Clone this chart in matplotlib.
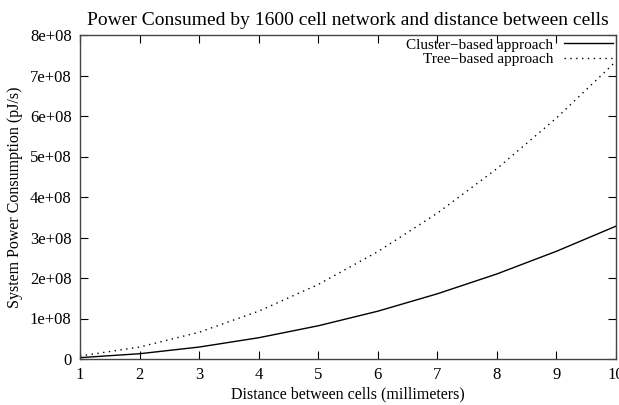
import matplotlib
matplotlib.use("Agg")
import matplotlib.pyplot as plt

distance = [1, 2, 3, 4, 5, 6, 7, 8, 9, 10]
cluster = [3.3e6, 1.3e7, 2.95e7, 5.25e7, 8.2e7, 1.18e8, 1.61e8, 2.1e8, 2.66e8, 3.28e8]
tree = [7.4e6, 2.95e7, 6.6e7, 1.18e8, 1.84e8, 2.65e8, 3.6e8, 4.7e8, 5.95e8, 7.35e8]
yticks = [0, 1e8, 2e8, 3e8, 4e8, 5e8, 6e8, 7e8, 8e8]
ytick_labels = ["0", "1e+08", "2e+08", "3e+08", "4e+08", "5e+08", "6e+08", "7e+08", "8e+08"]
xticks = [1, 2, 3, 4, 5, 6, 7, 8, 9, 10]

plt.rcParams['font.family'] = ['Liberation Serif', 'DejaVu Serif']

W, H = 619, 405
fig = plt.figure(figsize=(W / 100, H / 100), dpi=100)
left, right, top, bottom = 80, 616, 35, 359
ax = fig.add_axes([left / W, 1 - bottom / H, (right - left) / W, (bottom - top) / H])

ax.plot(distance, cluster, color='black', lw=1.0, label='Cluster\u2212based approach')
ax.plot(distance, tree, color='black', lw=1.0, linestyle=(0, (1, 3.2)), label='Tree\u2212based approach')

ax.set_xlim(1, 10)
ax.set_ylim(0, 8e8)
ax.set_xticks(xticks)
ax.set_xticklabels([str(x) for x in xticks])
ax.set_yticks(yticks)
ax.set_yticklabels(ytick_labels)
ax.tick_params(direction='in', length=6, width=0.8, top=True, right=True, labelsize=12, pad=6, colors='black')
for s in ax.spines.values():
    s.set_linewidth(1.0)
    s.set_color('#444444')

ax.set_title('Power Consumed by 1600 cell network and distance between cells', fontsize=14, pad=7)
ax.set_xlabel('Distance between cells (millimeters)', fontsize=11.5, labelpad=2)
ax.set_ylabel('System Power Consumption (pJ/s)', fontsize=11.5, labelpad=5)

leg = ax.legend(loc='upper right', frameon=False, markerfirst=False, fontsize=11,
                handlelength=3.2, handletextpad=0.7, borderaxespad=0.0, borderpad=0.1,
                labelspacing=0.05, bbox_to_anchor=(0.997, 0.995))
for t in leg.get_texts():
    t.set_ha('right')

fig.savefig('out.png', dpi=100)
